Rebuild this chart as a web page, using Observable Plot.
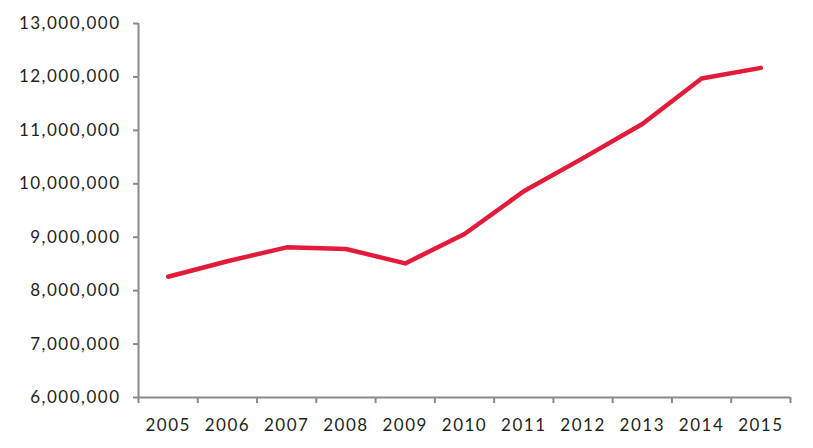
<!DOCTYPE html>
<html>
<head>
<meta charset="utf-8">
<script src="https://cdn.jsdelivr.net/npm/d3@7"></script>
<script src="https://cdn.jsdelivr.net/npm/@observablehq/plot@0.6"></script>
<style>
  html, body { margin: 0; padding: 0; background: #fff; }
  #chart svg { display: block; }
</style>
</head>
<body>
<div id="chart"></div>
<script>
const years = [2005, 2006, 2007, 2008, 2009, 2010, 2011, 2012, 2013, 2014, 2015];
const values = [8260000, 8550000, 8810000, 8780000, 8510000, 9060000, 9860000, 10480000, 11120000, 11970000, 12170000];
const yTicks = [6000000, 7000000, 8000000, 9000000, 10000000, 11000000, 12000000, 13000000];
const bandEdges = [2004.5, 2005.5, 2006.5, 2007.5, 2008.5, 2009.5, 2010.5, 2011.5, 2012.5, 2013.5, 2014.5, 2015.5];

const data = years.map((y, i) => ({year: y, value: values[i]}));
const axisColor = "#8a8a8a";
const textColor = "#231f20";

const chart = Plot.plot({
  width: 813,
  height: 448,
  marginLeft: 138,
  marginRight: 23,
  marginTop: 23,
  marginBottom: 51,
  style: {fontFamily: "Lato, sans-serif", fontSize: "17px", letterSpacing: "1.5px", color: textColor, background: "#fff"},
  x: {type: "linear", domain: [2004.5, 2015.5]},
  y: {domain: [6000000, 13000000]},
  marks: [
    Plot.axisY({ticks: yTicks, tickSize: 5, tickPadding: 13, tickFormat: d3.format(","), stroke: axisColor, strokeWidth: 2, fill: textColor, label: null}),
    Plot.axisX({ticks: bandEdges, tickSize: 6, tickFormat: () => "", stroke: axisColor, strokeWidth: 2, label: null}),
    Plot.axisX({ticks: years, tickSize: 0, tickPadding: 21, tickFormat: d => String(d), fill: textColor, label: null}),
    Plot.ruleX([2004.5], {stroke: axisColor, strokeWidth: 2}),
    Plot.ruleY([6000000], {stroke: axisColor, strokeWidth: 2}),
    Plot.line(data, {x: "year", y: "value", stroke: "#e31b3b", strokeWidth: 4.5})
  ]
});
document.getElementById("chart").appendChild(chart);
</script>
</body>
</html>
